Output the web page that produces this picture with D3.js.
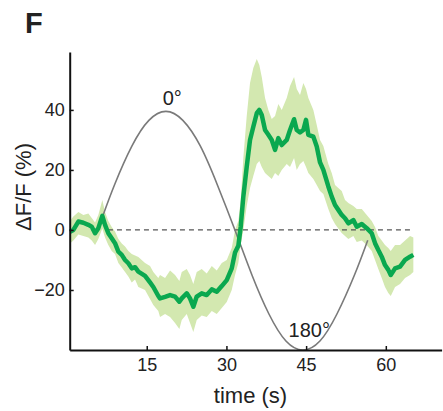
<!DOCTYPE html>
<html>
<head>
<meta charset="utf-8">
<script src="https://cdn.jsdelivr.net/npm/d3@7"></script>
<style>
  body { margin: 0; background: #fff; }
  svg { display: block; font-family: "Liberation Sans", Arial, sans-serif; }
</style>
</head>
<body>
<script>
// mean dF/F trace (green) with its shaded band
const time = [0.56, 1.19, 2.13, 3.07, 4.01, 4.65, 5.27, 5.89, 6.64, 7.15, 7.77, 8.41, 9.03, 9.66, 10.3, 10.92, 11.54, 12.18, 12.8, 13.42,
  14.68, 15.62, 16.24, 17.18, 17.5, 18.45, 19.39, 20.33, 21.14, 21.59, 22.53, 23.15, 23.77, 24.41, 25.35, 26.29, 27.24, 28.18, 29.12, 30.06,
  31.0, 31.62, 32.24, 32.69, 33.18, 33.82, 34.44, 35.06, 35.71, 36.19, 36.65, 37.27, 37.89, 38.53, 39.15, 39.77, 40.41, 41.35, 41.97, 42.73,
  43.23, 43.85, 44.48, 44.98, 45.42, 46.36, 47.0, 47.62, 48.24, 49.18, 49.82, 50.44, 51.06, 51.7, 52.32, 52.95, 53.89, 54.53, 55.47, 56.41,
  57.35, 57.97, 58.59, 59.23, 59.85, 60.47, 60.93, 61.74, 62.68, 63.62, 64.56, 65.18];
const dff = [-0.6, 0, 2.8, 2.4, 1.7, 1.1, -1.1, 0.6, 4.7, 1.7, -1.1, -2.8, -4.4, -7.2, -8.3, -10, -11.1, -12.8, -12.4, -13.9,
  -15.3, -17.5, -19, -22, -22.8, -22.3, -21.7, -22.2, -23.9, -22.8, -21.1, -22.8, -25.6, -22.2, -21.1, -21.7, -19.8, -20.6, -18.7, -16.7,
  -12.8, -7.5, -5.3, 1.1, 11.1, 21.1, 30, 34.4, 38.9, 40, 38.3, 33.3, 31.7, 30, 26.7, 30.6, 28.3, 30, 33.3, 36.9,
  33.3, 32.5, 33.3, 36.7, 31.7, 31.1, 27.8, 22.5, 20, 14.5, 11.1, 8.3, 6.7, 5, 3.9, 2.2, 3.3, 1.1, 2, 0.6,
  -1.1, -4.4, -6.7, -8.9, -11.7, -13.3, -15, -12.8, -12.2, -10, -8.9, -8.3];
const upper = [3, 4.5, 6, 5, 5.5, 4, 2.5, 5, 10, 6, 3, 1, -0.5, -3, -4.5, -5.5, -7, -8, -8.5, -9,
  -11, -12, -14, -16, -15, -16, -13.5, -15, -17, -14, -13, -15, -18, -14, -13, -14.5, -12, -13.5, -11, -10,
  -6, 0, 3, 10, 24, 38, 49, 54, 57, 55, 51, 44, 40, 37, 38, 42, 40, 44, 48, 51,
  47, 45, 49, 47, 44, 40, 35, 30, 28, 22, 19, 15, 14, 13, 10, 9, 8, 7, 7, 5,
  3, 1, -2, -3.5, -5, -6, -7, -5, -5, -3.5, -2, -2.5];
const lower = [-4.5, -3.5, -1.5, -2, -2.5, -3.5, -5, -3, 0.5, -2.5, -5, -7, -8, -11, -12.5, -14, -15.5, -17.5, -16.5, -19,
  -20, -23, -25, -27, -29, -28, -29, -31, -33, -30, -28, -31, -34, -30, -28.5, -29, -27, -28, -26, -24,
  -20, -15, -11, -5, 0, 8, 14, 18, 22, 23, 21, 19, 18, 17, 19, 18, 20, 22, 21, 24,
  20, 22, 23, 21, 19, 17, 15, 13, 12, 7, 4, 2, 0.5, -1, -2, -3, -2, -4, -3.5, -5,
  -7, -10, -13, -16, -19, -21, -22, -19, -18, -16, -15, -14];

// stimulus trace (grey)
const stimTime = [6.8, 9.0, 12.2, 15.4, 18.6, 21.8, 25.1, 28.3, 31.6, 34.8, 38.0, 41.2, 44.4, 47.6, 50.8, 54.1, 56.6];
const stimValue = [5, 15.3, 27.9, 36.5, 39.5, 36.5, 27.9, 15, 0, -15, -28, -37, -40, -37, -28, -15, -3.4];
const stimLabels = [{ t: 19.8, v: 41.7, text: "0°" }, { t: 45.6, v: -35.7, text: "180°" }];

const xTicks = [15, 30, 45, 60];
const yTicks = [-20, 0, 20, 40];
const baseline = { from: 7.7, to: 65.1 };

const W = 443, H = 411;

const svg = d3.select("body").append("svg")
  .attr("width", W)
  .attr("height", H);

const x = d3.scaleLinear().domain([0.5, 70.5]).range([69.7, 441.6]);
const y = d3.scaleLinear().domain([-40, 59.3]).range([350, 52]);

const series = time.map((t, i) => ({ t: t, v: dff[i], hi: upper[i], lo: lower[i] }));

// shaded band
svg.append("path")
  .datum(series)
  .attr("d", d3.area().x(d => x(d.t)).y0(d => y(d.lo)).y1(d => y(d.hi)))
  .attr("fill", "#d3e8b0");

// zero line
svg.append("line")
  .attr("x1", x(baseline.from)).attr("x2", x(baseline.to))
  .attr("y1", y(0)).attr("y2", y(0))
  .attr("stroke", "#555")
  .attr("stroke-width", 1.2)
  .attr("stroke-dasharray", "5,4");

// stimulus
svg.append("path")
  .datum(stimTime.map((t, i) => [t, stimValue[i]]))
  .attr("d", d3.line().x(d => x(d[0])).y(d => y(d[1])).curve(d3.curveNatural))
  .attr("fill", "none")
  .attr("stroke", "#7a7a7a")
  .attr("stroke-width", 1.6);

svg.selectAll("text.stim")
  .data(stimLabels)
  .enter().append("text")
  .attr("class", "stim")
  .attr("x", d => x(d.t))
  .attr("y", d => y(d.v))
  .attr("text-anchor", "middle")
  .attr("font-size", 20)
  .attr("fill", "#222")
  .text(d => d.text);

// mean line
svg.append("path")
  .datum(series)
  .attr("d", d3.line().x(d => x(d.t)).y(d => y(d.v)))
  .attr("fill", "none")
  .attr("stroke", "#0aa84f")
  .attr("stroke-width", 4.5)
  .attr("stroke-linejoin", "round");

// axes
const xAxis = svg.append("g")
  .attr("transform", `translate(0, ${y(-40)})`)
  .call(d3.axisBottom(x).tickValues(xTicks).tickSizeInner(-4).tickSizeOuter(0).tickPadding(8));

const yAxis = svg.append("g")
  .attr("transform", `translate(${x(0.5)}, 0)`)
  .call(d3.axisLeft(y).tickValues(yTicks).tickSizeInner(-4).tickSizeOuter(0).tickPadding(5)
    .tickFormat(d => d < 0 ? "\u2212" + Math.abs(d) : d));

[xAxis, yAxis].forEach(g => {
  g.select(".domain").attr("stroke", "#111").attr("stroke-width", 2);
  g.selectAll(".tick line").attr("stroke", "#111").attr("stroke-width", 1.5);
  g.selectAll(".tick text").attr("font-size", 18).attr("fill", "#222")
    .style("font-family", "'Liberation Sans', Arial, sans-serif");
});

// axis titles
svg.append("text")
  .attr("x", 250.5).attr("y", 402.5)
  .attr("text-anchor", "middle")
  .attr("font-size", 22)
  .attr("fill", "#222")
  .text("time (s)");

svg.append("text")
  .attr("transform", "translate(31, 187) rotate(-90)")
  .attr("text-anchor", "middle")
  .attr("font-size", 22)
  .attr("fill", "#222")
  .text("ΔF/F (%)");

// panel letter
svg.append("text")
  .attr("x", 25).attr("y", 33)
  .attr("font-size", 29)
  .attr("font-weight", "bold")
  .attr("fill", "#222")
  .text("F");
</script>
</body>
</html>
